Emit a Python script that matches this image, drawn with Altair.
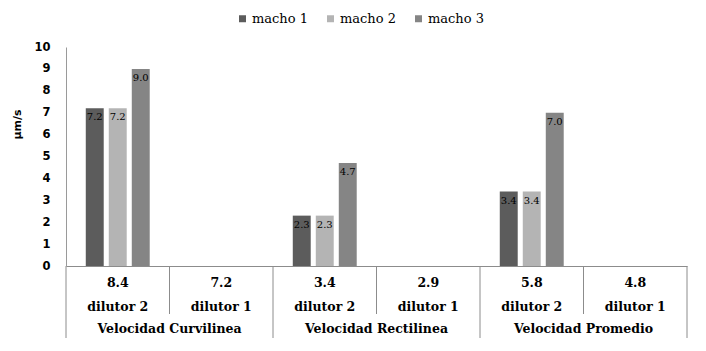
import altair as alt
import pandas as pd

groups = ["Velocidad Curvilinea", "Velocidad Rectilinea", "Velocidad Promedio"]
dilutors = ["dilutor 2", "dilutor 1"]
category_values = ["8.4", "7.2", "3.4", "2.9", "5.8", "4.8"]
machos = ["macho 1", "macho 2", "macho 3"]
# bar values (dilutor 2 of each group)
macho1 = [7.2, 2.3, 3.4]
macho2 = [7.2, 2.3, 3.4]
macho3 = [9.0, 4.7, 7.0]
colors = ["#5c5c5c", "#b4b4b4", "#858585"]

rows = []
for gi, g in enumerate(groups):
    for di, d in enumerate(dilutors):
        rows.append(dict(cat=f"{g}|{d}", group=g, dil=d,
                         num=category_values[gi * 2 + di], first=(di == 0)))
cat_df = pd.DataFrame(rows)
cat_order = list(cat_df["cat"])
last_cat = cat_order[-1]
cat_df["last"] = cat_df["cat"] == last_cat

bar_rows = []
for gi, g in enumerate(groups):
    for m, vals in zip(machos, [macho1, macho2, macho3]):
        bar_rows.append(dict(cat=f"{g}|dilutor 2", macho=m, value=vals[gi]))
bar_df = pd.DataFrame(bar_rows)

x_axis = alt.Axis(labels=False, ticks=False, title=None, grid=False,
                  domainColor="#8c8c8c", domainWidth=1)


def xenc(band=None):
    kw = {}
    if band is not None:
        kw["bandPosition"] = band
    return alt.X("cat:N", sort=cat_order,
                 scale=alt.Scale(domain=cat_order, paddingInner=0, paddingOuter=0),
                 axis=x_axis, **kw)


xoff = alt.XOffset("macho:N", sort=machos,
                   scale=alt.Scale(domain=machos, paddingInner=0.22, paddingOuter=0.86))

y_enc = alt.Y("value:Q",
              scale=alt.Scale(domain=[0, 10], nice=False),
              axis=alt.Axis(values=list(range(0, 11)), grid=False, ticks=False, tickSize=0,
                            labelOverlap=False,
                            labelFont="DejaVu Sans", labelFontWeight="bold", labelFontSize=11.5,
                            labelColor="black", labelPadding=16,
                            domainColor="#9a9a9a",
                            title="µm/s", titleFont="DejaVu Sans", titleFontWeight="bold",
                            titleFontSize=11, titleColor="black", titleAngle=270,
                            titleAlign="center", titleBaseline="middle",
                            titleX=-49, titleY=77))

color_enc = alt.Color("macho:N", scale=alt.Scale(domain=machos, range=colors),
                      legend=alt.Legend(title=None, orient="none", direction="horizontal",
                                        legendX=170, legendY=-35, columns=3,
                                        symbolType="square", symbolSize=49,
                                        symbolStrokeWidth=0, labelFont="DejaVu Serif",
                                        labelFontSize=13, labelColor="black",
                                        columnPadding=16, labelOffset=3, padding=0))

bars = alt.Chart(bar_df).mark_bar().encode(x=xenc(), xOffset=xoff, y=y_enc, color=color_enc)

bar_labels = alt.Chart(bar_df).mark_text(
    font="DejaVu Serif", fontSize=10, color="black", baseline="middle", dy=9
).encode(x=xenc(), xOffset=xoff, y=y_enc,
         text=alt.Text("value:Q", format=".1f"))

txt_style = dict(font="DejaVu Serif", fontWeight="bold", fontSize=12.5,
                 color="black", baseline="middle", align="center")

num_row = alt.Chart(cat_df).mark_text(**txt_style).encode(
    x=xenc(), y=alt.value(236), text="num:N")
dil_row = alt.Chart(cat_df).mark_text(**txt_style).encode(
    x=xenc(), y=alt.value(260), text="dil:N")
group_row = alt.Chart(cat_df).transform_filter("datum.first").mark_text(**txt_style).encode(
    x=xenc(1), y=alt.value(282), text="group:N")

rule_style = dict(color="#8c8c8c", strokeWidth=1)
long_rules = alt.Chart(cat_df).transform_filter("datum.first").mark_rule(**rule_style).encode(
    x=xenc(0), y=alt.value(219), y2=alt.value(291))
short_rules = alt.Chart(cat_df).transform_filter("!datum.first").mark_rule(**rule_style).encode(
    x=xenc(0), y=alt.value(219), y2=alt.value(267))
end_rule = alt.Chart(cat_df).transform_filter("datum.last").mark_rule(**rule_style).encode(
    x=xenc(1), y=alt.value(219), y2=alt.value(291))

chart = alt.layer(
    bars, bar_labels, num_row, dil_row, group_row, long_rules, short_rules, end_rule
).properties(
    width=621, height=219,
    autosize=alt.AutoSizeParams(type="none"),
    padding={"left": 66, "top": 47, "right": 19, "bottom": 85},
    background="white",
).configure_view(stroke=None)

chart.save("out.html", embed_options={"renderer": "svg", "actions": False})
